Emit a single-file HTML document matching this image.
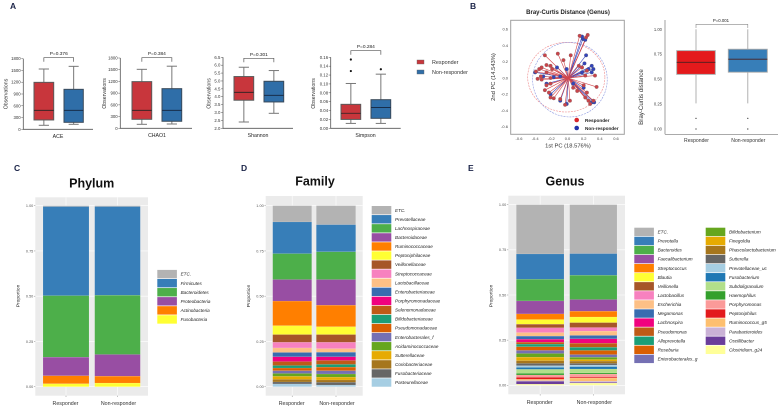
<!DOCTYPE html>
<html lang="en">
<head>
<meta charset="utf-8">
<title>Microbiome diversity and composition</title>
<style>
html,body{margin:0;padding:0;background:#fff;}
#figure{display:block;width:783px;height:410px;font-family:"Liberation Sans",sans-serif;}
</style>
</head>
<body>
<svg id="figure" xmlns="http://www.w3.org/2000/svg" width="783" height="410" viewBox="0 0 783 410">
  <rect x="0" y="0" width="783" height="410" fill="#ffffff"/>
  <text x="10" y="9" font-size="8.5" font-weight="bold" fill="#1a2347">A</text>
  <text x="470" y="9" font-size="8.5" font-weight="bold" fill="#1a2347">B</text>
  <text x="14" y="171" font-size="8.5" font-weight="bold" fill="#1a2347">C</text>
  <text x="241" y="171" font-size="8.5" font-weight="bold" fill="#1a2347">D</text>
  <text x="468" y="171" font-size="8.5" font-weight="bold" fill="#1a2347">E</text>
  <g id="ace"></g>
  <g id="chao"></g>
  <g id="shannon"></g>
  <g id="simpson"></g>
  <g>
    <rect x="417" y="60" width="7" height="4" fill="#c8363c" stroke="#666" stroke-width=".4"/>
    <text x="432" y="64" font-size="5.4" fill="#333">Responder</text>
    <rect x="417" y="70" width="7" height="4" fill="#2f6ea8" stroke="#666" stroke-width=".4"/>
    <text x="432" y="74" font-size="5.4" fill="#333">Non-responder</text>
  </g>
  <g id="pcoa"></g>
  <g id="bray"></g>
  <g id="phylum"></g>
  <g id="family"></g>
  <g id="genus"></g>
</svg>
<script>
/* ---------- Panel A data: [low whisker, q1, median, q3, high whisker] ---------- */
const aceResponder = [102, 238, 484, 1197, 1537];
const aceNonResponder = [127, 178, 484, 1019, 1605];
const aceTicks = [0, 300, 600, 900, 1200, 1500, 1800];
const chaoResponder = [102, 230, 460, 1195, 1510];
const chaoNonResponder = [110, 180, 460, 1015, 1590];
const chaoTicks = [0, 300, 600, 900, 1200, 1500, 1800];
const shannonResponder = [2.4, 3.78, 4.28, 5.28, 5.87];
const shannonNonResponder = [2.95, 3.67, 4.09, 4.98, 5.66];
const shannonTicks = [2.0, 2.5, 3.0, 3.5, 4.0, 4.5, 5.0, 5.5, 6.0, 6.5];
const simpsonResponder = [0.011, 0.02, 0.034, 0.054, 0.101];
const simpsonNonResponder = [0.011, 0.0225, 0.047, 0.0645, 0.122];
const simpsonResponderOutliers = [0.129, 0.155];
const simpsonNonResponderOutliers = [0.133];
const simpsonTicks = [0, 0.02, 0.04, 0.06, 0.08, 0.10, 0.12, 0.14, 0.16];

/* ---------- Panel B data ---------- */
const pcoaTicks = [-0.6, -0.4, -0.2, 0, 0.2, 0.4, 0.6];
const responderPc1 = [.15,.25,.23,-.12,-.05,.04,-.28,-.26,-.32,-.35,-.39,-.21,-.19,-.26,-.37,-.32,-.21,-.33,-.26,-.21,-.28,-.23,-.21,-.17,-.09,-.03,.03,.14,.18,.24,.22,.34,.36,.2,.24,.22,.26,.28,.32,.12,.07];
const responderPc2 = [.52,.53,.50,.30,.22,.28,.28,.16,.13,.11,.08,.15,.11,.07,-.01,-.02,0,.02,-.09,-.07,-.15,-.18,-.24,-.25,-.26,-.33,-.28,.15,.13,.09,.03,.03,-.11,-.09,-.18,-.24,-.28,-.32,-.28,-.16,-.12];
const nonResponderPc1 = [.19,.22,.18,.23,.21,.30,.30,.32,.26,-.40,-.30,-.17,-.09,-.26,-.13,-.01,-.21,-.01,-.09,.30,.33,.20,.07,.18];
const nonResponderPc2 = [.48,.47,.51,.28,.18,.15,.07,.11,.11,.07,.02,.01,.02,-.07,.13,.11,-.20,-.32,-.28,-.30,-.30,-.12,-.07,.07];
const brayTicks = [0, 0.25, 0.5, 0.75, 1];
const brayResponder = [0.257, 0.548, 0.669, 0.786, 1];
const brayNonResponder = [0.257, 0.57, 0.70, 0.80, 1];
const brayOutliers = [0, 0.107];

/* ---------- Panels C-E data ---------- */
const groups = ['Responder', 'Non-responder'];
const proportionTicks = [0, 0.25, 0.5, 0.75, 1];
const palette = ['#b3b3b3','#377eb8','#4daf4a','#984ea3','#ff7f00','#ffff33','#a65628','#f781bf','#fdc086','#386cb0','#f0027f','#bf5b17','#1b9e77','#d95f02','#7570b3','#66a61e','#e6ab02','#a6761d','#666666','#a6cee3','#1f78b4','#b2df8a','#33a02c','#fb9a99','#e31a1c','#fdbf6f','#cab2d6','#6a3d9a','#ffff99'];

const phylumNames = ['ETC.','Firmicutes','Bacteroidetes','Proteobacteria','Actinobacteria','Fusobacteria'];
const phylumResponder = [.005,.492,.34,.103,.044,.016];
const phylumNonResponder = [.005,.49,.327,.12,.038,.02];

const familyNames = ['ETC.','Prevotellaceae','Lachnospiraceae','Bacteroidaceae','Ruminococcaceae','Peptoniphilaceae','Veillonellaceae','Streptococcaceae','Lactobacillaceae','Enterobacteriaceae','Porphyromonadaceae','Selenomonadaceae','Bifidobacteriaceae','Pseudomonadaceae','Enterobacterales_f','Acidaminococcaceae','Sutterellaceae','Coriobacteriaceae','Fusobacteriaceae','Pasteurellaceae'];
const familyResponder = [.09,.175,.143,.119,.136,.049,.043,.031,.025,.024,.026,.022,.014,.015,.015,.016,.017,.014,.011,.015];
const familyNonResponder = [.105,.15,.153,.142,.119,.043,.043,.035,.02,.025,.02,.022,.015,.02,.018,.017,.016,.013,.015,.009];

const genusNames = ['ETC.','Prevotella','Bacteroides','Faecalibacterium','Streptococcus','Blautia','Veillonella','Lactobacillus','Escherichia','Megamonas','Lachnospira','Pseudomonas','Alloprevotella','Roseburia','Enterobacterales_g','Bifidobacterium','Finegoldia','Phascolarctobacterium','Sutterella','Prevotellaceae_uc','Fusobacterium','Subdoligranulum','Haemophilus','Porphyromonas','Peptoniphilus','Ruminococcus_g5','Parabacteroides','Oscillibacter','Clostridium_g24'];
const genusResponder = [.273,.14,.12,.072,.031,.026,.02,.026,.02,.017,.016,.011,.015,.02,.017,.02,.02,.015,.013,.009,.011,.022,.009,.013,.011,.007,.004,.016,.006];
const genusNonResponder = [.271,.12,.134,.065,.032,.031,.027,.02,.024,.019,.024,.023,.017,.023,.015,.012,.009,.013,.009,.009,.013,.022,.006,.017,.005,.018,.006,.004,.012];

/* ---------- helpers ---------- */
const NS = 'http://www.w3.org/2000/svg';
function make(tag, parent, attrs, content) {
  const el = document.createElementNS(NS, tag);
  for (const k in attrs) el.setAttribute(k, attrs[k]);
  if (content !== undefined) el.textContent = content;
  parent.appendChild(el);
  return el;
}
function linear(d0, d1, r0, r1) {
  return v => r0 + (v - d0) * (r1 - r0) / (d1 - d0);
}
function fmt(v, digits) { return Number(v).toFixed(digits); }

function drawBox(g, stats, x0, x1, y, fill, edge, lw, medianColor, boxEdge) {
  const cx = (x0 + x1) / 2, capW = (x1 - x0) * 0.26;
  const whisker = make('line', g, {x1: cx, x2: cx, y1: y(stats[0]), y2: y(stats[4]), stroke: edge, 'stroke-width': lw});
  
  
  if (capW && medianColor !== '#4a2020') {
    [stats[0], stats[4]].forEach(v => {
      const cap = make('line', g, {x1: cx - capW, x2: cx + capW, y1: y(v), y2: y(v), stroke: edge, 'stroke-width': lw});
      
      
    });
  }
  const box = make('rect', g, {x: x0, y: y(stats[3]), width: x1 - x0, height: y(stats[1]) - y(stats[3]), fill: fill, stroke: boxEdge || edge, 'stroke-width': lw});
  
  
  const med = make('line', g, {x1: x0, x2: x1, y1: y(stats[2]), y2: y(stats[2]), stroke: medianColor, 'stroke-width': 0.8});
  
  
}

function drawAlpha(id, o) {
  const g = document.getElementById(id);
  const y = linear(o.min, o.max, o.y0, o.y1);
  const yAxis = make('line', g, {x1: o.ax, x2: o.ax, y1: o.y0 + .4, y2: o.y1, stroke: '#555', 'stroke-width': .8});
  
  
  const xAxis = make('line', g, {x1: o.ax, x2: o.axEnd, y1: o.y0, y2: o.y0, stroke: '#555', 'stroke-width': .8});
  
  
  o.ticks.forEach(t => {
    const tick = make('line', g, {x1: o.ax - 2, x2: o.ax, y1: y(t), y2: y(t), stroke: '#555', 'stroke-width': .5});
    
    
    const lab = make('text', g, {x: o.ax - 2.6, y: y(t) + 1.5, 'font-size': 4.3, fill: '#333', 'text-anchor': 'end'}, fmt(t, o.digits));
    
    
  });
  const title = make('text', g, {x: 0, y: 0, 'font-size': 5.2, fill: '#333', 'text-anchor': 'middle', transform: 'translate(' + o.titleX + ',' + o.titleY + ') rotate(-90)'}, 'Observations');
  
  
  const xl = make('text', g, {x: o.labelX, y: o.y0 + 8.5, 'font-size': 5.2, fill: '#222', 'text-anchor': 'middle'}, o.label);
  
  
  drawBox(g, o.r, o.bx[0], o.bx[1], y, '#c8363c', '#777777', 1, '#222', '#5a5a5a');
  drawBox(g, o.n, o.bx[2], o.bx[3], y, '#2f6ea8', '#777777', 1, '#14243c', '#3a4a5a');
  const rc = (o.bx[0] + o.bx[1]) / 2, nc = (o.bx[2] + o.bx[3]) / 2;
  (o.rOut || []).forEach(v => {
    const p = make('circle', g, {cx: rc, cy: y(v), r: 1.1, fill: '#111'});
    
    
  });
  (o.nOut || []).forEach(v => {
    const p = make('circle', g, {cx: nc, cy: y(v), r: 1.1, fill: '#111'});
    
    
  });
  const br = make('path', g, {d: 'M' + rc + ' ' + (o.brY + 4) + 'V' + o.brY + 'H' + nc + 'V' + (o.brY + 4), fill: 'none', stroke: '#555', 'stroke-width': .7});
  
  
  const pv = make('text', g, {x: (rc + nc) / 2, y: o.brY - 2.5, 'font-size': 4.8, fill: '#222', 'text-anchor': 'middle'}, o.p);
  
  
}

drawAlpha('ace', {min: 0, max: 1800, y0: 129.3, y1: 58.7, ax: 23.3, axEnd: 93, labelX: 58, ticks: aceTicks, digits: 0, titleX: 7.5, titleY: 94, label: 'ACE', r: aceResponder, n: aceNonResponder, bx: [34, 53.7, 64, 83.3], brY: 57.7, p: 'P=0.376'});
drawAlpha('chao', {min: 0, max: 1800, y0: 128.3, y1: 58, ax: 120.3, axEnd: 192, labelX: 157, ticks: chaoTicks, digits: 0, titleX: 105.8, titleY: 93.5, label: 'CHAO1', r: chaoResponder, n: chaoNonResponder, bx: [132, 151.7, 162, 181.7], brY: 57.7, p: 'P=0.384'});
drawAlpha('shannon', {min: 2, max: 6.5, y0: 128.3, y1: 57.3, ax: 223, axEnd: 293, labelX: 258, ticks: shannonTicks, digits: 1, titleX: 210.5, titleY: 93.5, label: 'Shannon', r: shannonResponder, n: shannonNonResponder, bx: [234, 253.7, 264, 283.7], brY: 58.3, p: 'P=0.301'});
drawAlpha('simpson', {min: 0, max: 0.16, y0: 128.3, y1: 57.3, ax: 330.7, axEnd: 400.7, labelX: 365.5, ticks: simpsonTicks, digits: 2, titleX: 315, titleY: 93.5, label: 'Simpson', r: simpsonResponder, n: simpsonNonResponder, rOut: simpsonResponderOutliers, nOut: simpsonNonResponderOutliers, bx: [341, 360.7, 371, 390.7], brY: 50.7, p: 'P=0.284'});

/* ---------- PCoA ---------- */
(function () {
  const g = document.getElementById('pcoa');
  const px = linear(-0.6, 0.6, 519, 616);
  const py = linear(-0.6, 0.6, 126.7, 29.3);
  const t = make('text', g, {x: 568, y: 14, 'font-size': 6, 'font-weight': 'bold', fill: '#222', 'text-anchor': 'middle'}, 'Bray-Curtis Distance (Genus)');
  
  
  const frame = make('rect', g, {x: 510.7, y: 20.3, width: 113.6, height: 114, fill: '#fff', stroke: '#a0a0a0', 'stroke-width': 1});
  
  
  pcoaTicks.forEach(v => {
    const a = make('text', g, {x: px(v), y: 140, 'font-size': 4, fill: '#444', 'text-anchor': 'middle'}, fmt(v, 1));
    
    
    const b = make('text', g, {x: 508, y: py(v) + 1.4, 'font-size': 4, fill: '#444', 'text-anchor': 'end'}, fmt(v, 1));
    
    
  });
  const xt = make('text', g, {x: 568, y: 147.5, 'font-size': 5.8, fill: '#333', 'text-anchor': 'middle'}, '1st PC (18.576%)');
  
  
  const yt = make('text', g, {x: 0, y: 0, 'font-size': 5.8, fill: '#333', 'text-anchor': 'middle', transform: 'translate(495,77) rotate(-90)'}, '2nd PC (14.543%)');
  
  
  const e1 = make('ellipse', g, {cx: px(-0.015), cy: py(0.01), rx: 38.6, ry: 34.8, fill: 'none', stroke: '#ee8a8c', 'stroke-width': .6, 'stroke-dasharray': '2 1'});
  
  
  const e2 = make('ellipse', g, {cx: px(0.03), cy: py(-0.02), rx: 37.3, ry: 37.3, fill: 'none', stroke: '#8c98e0', 'stroke-width': .6, 'stroke-dasharray': '2 1'});
  
  
  nonResponderPc1.forEach((v, i) => {
    const l = make('line', g, {x1: px(0.01), y1: py(0), x2: px(v), y2: py(nonResponderPc2[i]), stroke: '#3344bb', 'stroke-width': .6});
    
    
  });
  responderPc1.forEach((v, i) => {
    const l = make('line', g, {x1: px(0.01), y1: py(0), x2: px(v), y2: py(responderPc2[i]), stroke: '#d2464c', 'stroke-width': .6});
    
    
  });
  nonResponderPc1.forEach((v, i) => {
    const c = make('circle', g, {cx: px(v), cy: py(nonResponderPc2[i]), r: 1.8, fill: '#3344bb', stroke: '#555', 'stroke-width': .25});
    
    
  });
  responderPc1.forEach((v, i) => {
    const c = make('circle', g, {cx: px(v), cy: py(responderPc2[i]), r: 1.8, fill: '#c9444a', stroke: '#666', 'stroke-width': .25});
    
    
  });
  const d1 = make('circle', g, {cx: 576.7, cy: 120, r: 2.3, fill: '#d8262c'});
  
  
  const d2 = make('circle', g, {cx: 576.7, cy: 128, r: 2.3, fill: '#2233aa'});
  
  
  const l1 = make('text', g, {x: 585, y: 121.8, 'font-size': 4.7, 'font-weight': 'bold', fill: '#222'}, 'Responder');
  
  
  const l2 = make('text', g, {x: 585, y: 129.8, 'font-size': 4.7, 'font-weight': 'bold', fill: '#222'}, 'Non-responder');
  
  
})();

/* ---------- Bray-Curtis box ---------- */
(function () {
  const g = document.getElementById('bray');
  const y = linear(0, 1, 129, 29.3);
  const ya = make('line', g, {x1: 665, x2: 665, y1: 20, y2: 134.3, stroke: '#777', 'stroke-width': .7});
  
  
  const xa = make('line', g, {x1: 665, x2: 778, y1: 134.3, y2: 134.3, stroke: '#777', 'stroke-width': .7});
  
  
  brayTicks.forEach(v => {
    const l = make('text', g, {x: 662, y: y(v) + 1.5, 'font-size': 4.2, fill: '#444', 'text-anchor': 'end'}, fmt(v, 2));
    
    
  });
  const yt = make('text', g, {x: 0, y: 0, 'font-size': 6.2, fill: '#333', 'text-anchor': 'middle', transform: 'translate(643,97) rotate(-90)'}, 'Bray-Curtis distance');
  
  
  drawBox(g, brayResponder, 676.7, 715.3, y, '#e41a1c', '#a8a8a8', .9, '#4a2020');
  drawBox(g, brayNonResponder, 728.3, 767.3, y, '#377eb8', '#a8a8a8', .9, '#4a2020');
  [696, 747.8].forEach((cx, i) => {
    brayOutliers.forEach(v => {
      const p = make('circle', g, {cx: cx, cy: y(v), r: .6, fill: '#222'});
      
      
    });
    const l = make('text', g, {x: cx + .5, y: 142, 'font-size': 5.1, fill: '#333', 'text-anchor': 'middle'}, groups[i]);
    
    
  });
  const br = make('path', g, {d: 'M696 28V24.3H747.8V28', fill: 'none', stroke: '#888', 'stroke-width': .6});
  
  
  const p = make('text', g, {x: 721, y: 21.8, 'font-size': 4.3, fill: '#222', 'text-anchor': 'middle'}, 'P=0.001');
  
  
})();

/* ---------- Stacked bars ---------- */
function drawStacked(id, o) {
  const g = document.getElementById(id);
  const y = linear(0, 1, o.y0, o.y1);
  const title = make('text', g, {x: o.titleX, y: o.titleY, 'font-size': 12.5, 'font-weight': 'bold', fill: '#111', 'text-anchor': 'middle'}, o.title);
  
  
  const bg = make('rect', g, {x: o.px0, y: o.py0, width: o.px1 - o.px0, height: o.py1 - o.py0, fill: '#ebebeb'});
  
  
  proportionTicks.forEach(v => {
    const grid = make('line', g, {x1: o.px0, x2: o.px1, y1: y(v), y2: y(v), stroke: '#fff', 'stroke-width': .6});
    
    
    const tick = make('line', g, {x1: o.px0 - 1.2, x2: o.px0, y1: y(v), y2: y(v), stroke: '#555', 'stroke-width': .4});
    
    
    const lab = make('text', g, {x: o.px0 - 2, y: y(v) + 1.3, 'font-size': 3.8, fill: '#555', 'text-anchor': 'end'}, fmt(v, 2));
    
    
  });
  const yt = make('text', g, {x: 0, y: 0, 'font-size': 4.9, fill: '#222', 'text-anchor': 'middle', transform: 'translate(' + o.ytX + ',296) rotate(-90)'}, 'Proportion');
  
  
  [o.r, o.n].forEach((series, b) => {
    const x0 = o.bars[b][0], x1 = o.bars[b][1], cx = (x0 + x1) / 2;
    const vgrid = make('line', g, {x1: cx, x2: cx, y1: o.py0, y2: o.py1, stroke: '#fff', 'stroke-width': .6});
    
    
    let top = 1;
    series.forEach((v, i) => {
      const r = make('rect', g, {x: x0, y: y(top), width: x1 - x0, height: y(top - v) - y(top), fill: palette[i], stroke: 'rgba(255,255,255,.35)', 'stroke-width': .25});
      
      
      top -= v;
    });
    const tick = make('line', g, {x1: cx, x2: cx, y1: o.py1, y2: o.py1 + 1.2, stroke: '#555', 'stroke-width': .4});
    
    
    const lab = make('text', g, {x: cx + (b ? 1 : -.5), y: o.xlY, 'font-size': 5.3, fill: '#333', 'text-anchor': 'middle'}, groups[b]);
    
    
  });
  o.names.forEach((name, i) => {
    const col = i < o.perCol ? 0 : 1, row = col ? i - o.perCol : i;
    const sx = o.legX[col], sy = o.legY + row * 9.07;
    const s = make('rect', g, {x: sx, y: sy, width: 19.6, height: 8.4, fill: palette[i]});
    
    
    const l = make('text', g, {x: sx + 23.3, y: sy + 5.8, 'font-size': 4.6, 'font-style': 'italic', fill: '#222'}, name);
    
    
  });
}

drawStacked('phylum', {title: 'Phylum', titleX: 91.7, titleY: 187.5, px0: 35.3, px1: 148, py0: 197.3, py1: 395.7, y0: 386.7, y1: 205.7, ytX: 19.5, xlY: 405, bars: [[43, 89], [94.7, 140.3]], r: phylumResponder, n: phylumNonResponder, names: phylumNames, perCol: 99, legX: [157.3], legY: 269.9});
drawStacked('family', {title: 'Family', titleX: 315, titleY: 185.5, px0: 265.7, px1: 362.7, py0: 196, py1: 395.7, y0: 386.7, y1: 205.7, ytX: 250, xlY: 405, bars: [[272.7, 311.7], [316.3, 355.7]], r: familyResponder, n: familyNonResponder, names: familyNames, perCol: 99, legX: [371.7], legY: 206});
drawStacked('genus', {title: 'Genus', titleX: 565, titleY: 185.5, px0: 508.3, px1: 625, py0: 195.7, py1: 394.3, y0: 385.3, y1: 204.7, ytX: 492.5, xlY: 404, bars: [[516.3, 564], [569.7, 617]], r: genusResponder, n: genusNonResponder, names: genusNames, perCol: 15, legX: [634.3, 705.7], legY: 227.7});
</script>
</body>
</html>
